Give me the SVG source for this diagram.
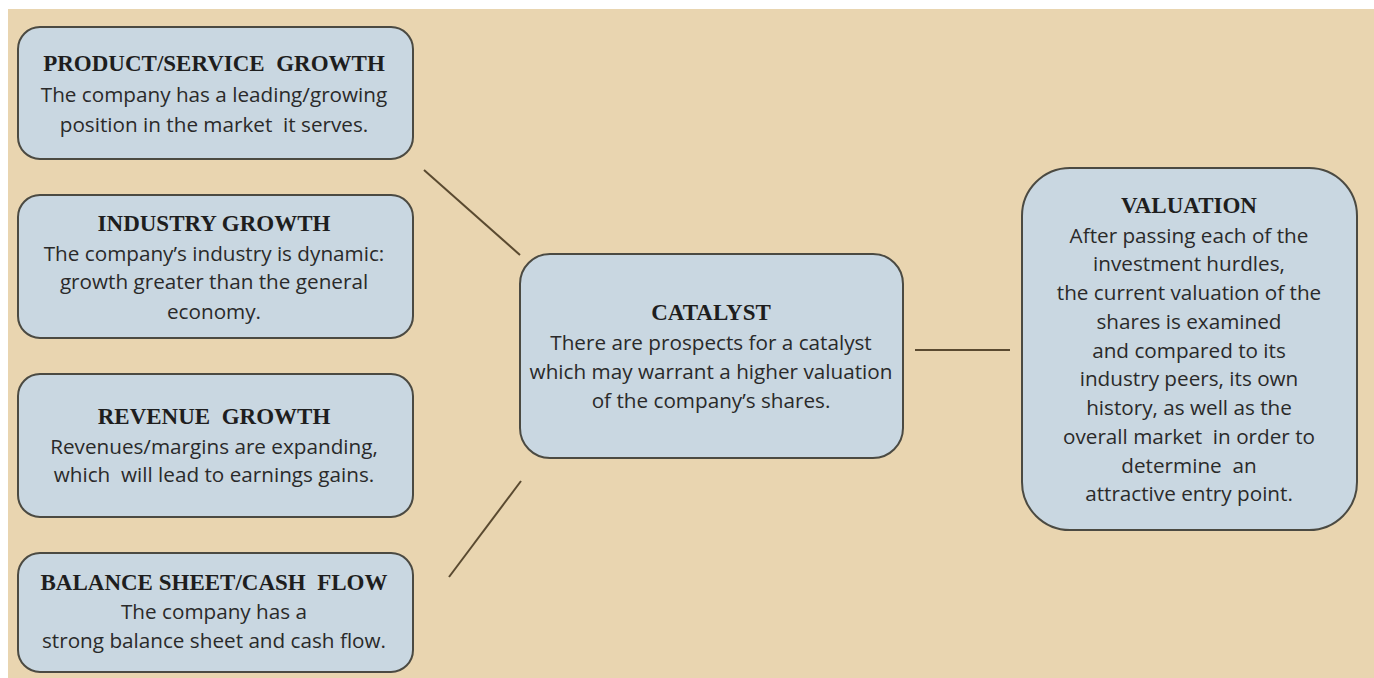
<svg xmlns="http://www.w3.org/2000/svg" width="1374" height="678" viewBox="0 0 1374 678">
<style>
.box{fill:#c9d7e1;stroke:#4b4a42;stroke-width:2}
.t{font-family:"Liberation Serif",serif;font-weight:bold;font-size:23px;fill:#1e1e1e;text-anchor:middle}
.b{font-family:"Open Sans","Noto Sans",sans-serif;font-size:20.7px;fill:#2a2a2a;text-anchor:middle}
.c{stroke:#5a4a30;stroke-width:2;fill:none}
</style>
<rect x="0" y="0" width="1374" height="678" fill="#ffffff"/>
<rect x="8" y="9" width="1366" height="669" fill="#e9d5b0"/>
<g id="connectors">
<line class="c" x1="424" y1="170" x2="520" y2="255"/>
<line class="c" x1="449" y1="577" x2="521" y2="481"/>
<line class="c" x1="915" y1="350" x2="1010" y2="350"/>
</g>
<g id="product">
<rect class="box" x="18" y="27" width="395" height="132" rx="22"/>
<text class="t" x="214" y="71" xml:space="preserve">PRODUCT/SERVICE  GROWTH</text>
<text class="b" x="214" y="102">The company has a leading/growing</text>
<text class="b" x="214" y="132" xml:space="preserve">position in the market  it serves.</text>
</g>
<g id="industry">
<rect class="box" x="18" y="195" width="395" height="143" rx="22"/>
<text class="t" x="214" y="231">INDUSTRY GROWTH</text>
<text class="b" x="214" y="261">The company’s industry is dynamic:</text>
<text class="b" x="214" y="289">growth greater than the general</text>
<text class="b" x="214" y="319">economy.</text>
</g>
<g id="revenue">
<rect class="box" x="18" y="374" width="395" height="143" rx="22"/>
<text class="t" x="214" y="424" xml:space="preserve">REVENUE  GROWTH</text>
<text class="b" x="214" y="454">Revenues/margins are expanding,</text>
<text class="b" x="214" y="482" xml:space="preserve">which  will lead to earnings gains.</text>
</g>
<g id="balance">
<rect class="box" x="18" y="553" width="395" height="119" rx="22"/>
<text class="t" x="214" y="590" xml:space="preserve">BALANCE SHEET/CASH  FLOW</text>
<text class="b" x="214" y="619">The company has a</text>
<text class="b" x="214" y="648">strong balance sheet and cash flow.</text>
</g>
<g id="catalyst">
<rect class="box" x="520" y="254" width="383" height="204" rx="30"/>
<text class="t" x="711" y="320">CATALYST</text>
<text class="b" x="711" y="350">There are prospects for a catalyst</text>
<text class="b" x="711" y="379">which may warrant a higher valuation</text>
<text class="b" x="711" y="408">of the company’s shares.</text>
</g>
<g id="valuation">
<rect class="box" x="1022" y="168" width="335" height="362" rx="48"/>
<text class="t" x="1189" y="213">VALUATION</text>
<text class="b" x="1189" y="243">After passing each of the</text>
<text class="b" x="1189" y="271">investment hurdles,</text>
<text class="b" x="1189" y="300">the current valuation of the</text>
<text class="b" x="1189" y="329">shares is examined</text>
<text class="b" x="1189" y="358">and compared to its</text>
<text class="b" x="1189" y="386">industry peers, its own</text>
<text class="b" x="1189" y="415">history, as well as the</text>
<text class="b" x="1189" y="444" xml:space="preserve">overall market  in order to</text>
<text class="b" x="1189" y="473" xml:space="preserve">determine  an</text>
<text class="b" x="1189" y="501">attractive entry point.</text>
</g>
</svg>
